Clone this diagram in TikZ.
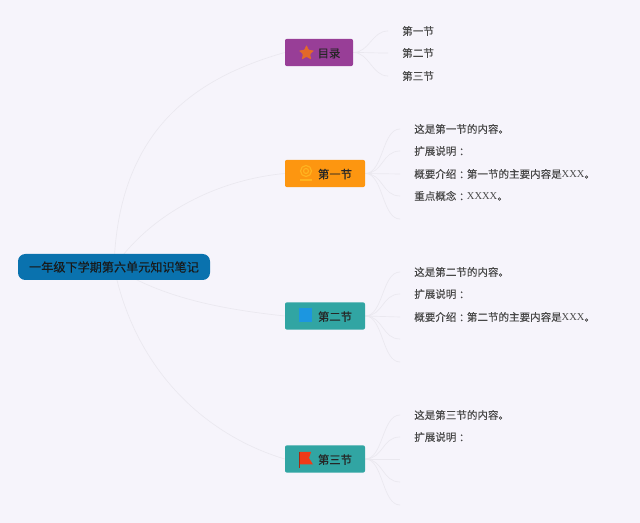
\documentclass[tikz,border=0pt]{standalone}
\usepackage{fontspec}
\setmainfont{Liberation Serif}
\newfontfamily\cjk[FakeBold=0.1]{Noto Sans CJK SC}
\newfontfamily\cjkheavy[FakeBold=0.2]{Noto Sans CJK SC}
\newfontfamily\cjkjp[FakeBold=0.1]{Noto Sans CJK JP}
\usetikzlibrary{backgrounds,shapes.geometric}
\definecolor{pagebg}{HTML}{F6F4FB}
\definecolor{linkgray}{HTML}{EAE8EF}
\definecolor{rootblue}{HTML}{0A72AE}
\definecolor{tocpurple}{HTML}{983E97}
\definecolor{orangebox}{HTML}{FD9610}
\definecolor{tealbox}{HTML}{31A5A3}
\definecolor{staricon}{HTML}{E2692A}
\definecolor{ringicon}{HTML}{FFB31F}
\definecolor{squareicon}{HTML}{1C96E0}
\definecolor{flagicon}{HTML}{F03A17}
\newcommand{\cl}{\raisebox{-0.6pt}{\cjkjp ：}}
\newcommand{\xx}[1]{{\rmfamily #1}}
\tikzset{
  rootbox/.style={fill=rootblue,rounded corners=5.5pt,minimum width=144pt,minimum height=19.5pt,inner sep=0pt,font=\cjkheavy\fontsize{9.1}{11}\selectfont,text=black!90},
  secbox/.style={fill=#1,rounded corners=1.5pt,minimum height=20.5pt,inner sep=0pt,font=\cjkheavy\fontsize{8.5}{10}\selectfont,text=black!85,text height=8pt,text depth=0.6pt,execute at begin node=\hspace*{15pt}},
  leaf/.style={anchor=west,inner ysep=0pt,inner xsep=10.5pt,font=\cjk\fontsize{7.9}{10}\selectfont,text=black!72,text height=7pt,text depth=1pt},
  lnk/.style={draw=linkgray,line width=0.5pt}
}
\begin{document}
\begin{tikzpicture}[x=0.75pt,y=-0.75pt]
  \useasboundingbox (0,0) rectangle (640,523);

  % Root and sections
  \node[rootbox] (root) at (114,267) {一年级下学期第六单元知识笔记};
  \node[secbox=tocpurple,minimum width=51pt] (toc) at (319,52.5) {目录};
  \node[secbox=orangebox,minimum width=60pt] (seca) at (325,173.5) {第一节};
  \node[secbox=tealbox,minimum width=60pt] (secb) at (325,316) {第二节};
  \node[secbox=tealbox,minimum width=60pt] (secc) at (325,459) {第三节};

  % Leaves of the contents box
  \node[leaf] (toca) at (388,31) {第一节};
  \node[leaf] (tocb) at (388,53) {第二节};
  \node[leaf] (tocc) at (388,76) {第三节};

  % Leaves of the first section
  \node[leaf] (seca1) at (400,129) {这是第一节的内容。};
  \node[leaf] (seca2) at (400,151) {扩展说明\cl};
  \node[leaf] (seca3) at (400,174) {概要介绍\cl 第一节的主要内容是\xx{XXX}。};
  \node[leaf] (seca4) at (400,196) {重点概念\cl\xx{XXXX}。};
  \coordinate (seca5) at (400,219);

  % Leaves of the second section
  \node[leaf] (secb1) at (400,272) {这是第二节的内容。};
  \node[leaf] (secb2) at (400,294) {扩展说明\cl};
  \node[leaf] (secb3) at (400,317) {概要介绍\cl 第二节的主要内容是\xx{XXX}。};
  \coordinate (secb4) at (400,339);
  \coordinate (secb5) at (400,362);

  % Leaves of the third section
  \node[leaf] (secc1) at (400,415) {这是第三节的内容。};
  \node[leaf] (secc2) at (400,437) {扩展说明\cl};
  \coordinate (secc3) at (400,459);
  \coordinate (secc4) at (400,482);
  \coordinate (secc5) at (400,505);

  % Icons
  \node[star,star points=5,star point ratio=2.1,fill=staricon,rounded corners=0.6pt,inner sep=0pt,minimum size=12pt] (icontoc) at (306.5,53) {};
  \draw[ringicon,line width=0.9pt] (306,171) circle (5.5);
  \draw[ringicon,line width=0.9pt] (306,171) circle (2.5);
  \draw[ringicon,line width=1pt] (300,180) -- (312,180);
  \fill[squareicon] (299,308.5) rectangle (312,322);
  \fill[flagicon] (299.5,452) -- (311,452) -- (309,458) -- (313,464.5) -- (299.5,464.5) -- cycle;
  \draw[flagicon!70!black,line width=0.4pt] (299.5,452) -- (299.5,468);

  % Links
  \begin{pgfonlayer}{background}
    \fill[pagebg] (0,0) rectangle (640,523);
    \draw[lnk] (root.center) .. controls (118,130) and (195,78) .. (toc.west);
    \draw[lnk] (root.center) .. controls (150,215) and (215,180) .. (seca.west);
    \draw[lnk] (root.center) .. controls (165,300) and (230,310) .. (secb.west);
    \draw[lnk] (root.center) .. controls (135,370) and (205,435) .. (secc.west);
    \foreach \n in {toca,tocb,tocc}
      \draw[lnk] (toc.east) .. controls +(16,0) and +(-16,0) .. (\n.west);
    \foreach \n in {seca1,seca2,seca3,seca4}
      \draw[lnk] (seca.east) .. controls +(18,0) and +(-18,0) .. (\n.west);
    \draw[lnk] (seca.east) .. controls +(18,0) and +(-18,0) .. (seca5);
    \foreach \n in {secb1,secb2,secb3}
      \draw[lnk] (secb.east) .. controls +(18,0) and +(-18,0) .. (\n.west);
    \foreach \n in {secb4,secb5}
      \draw[lnk] (secb.east) .. controls +(18,0) and +(-18,0) .. (\n);
    \foreach \n in {secc1,secc2}
      \draw[lnk] (secc.east) .. controls +(18,0) and +(-18,0) .. (\n.west);
    \foreach \n in {secc3,secc4,secc5}
      \draw[lnk] (secc.east) .. controls +(18,0) and +(-18,0) .. (\n);
  \end{pgfonlayer}
\end{tikzpicture}
\end{document}
